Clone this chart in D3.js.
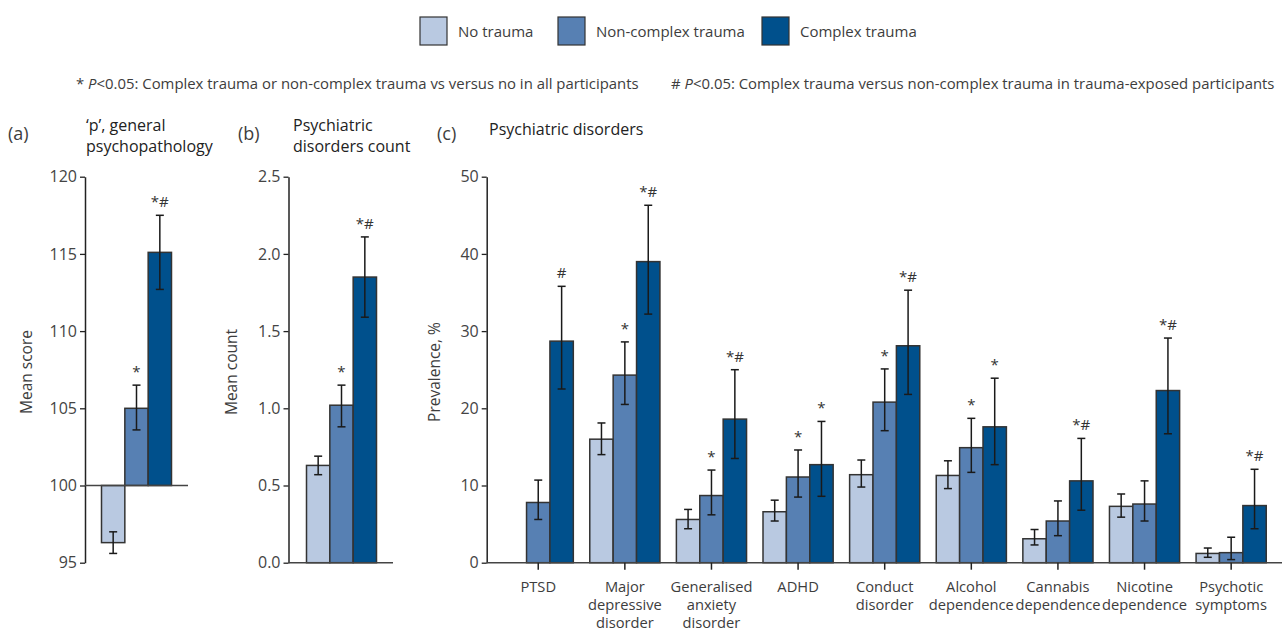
<!DOCTYPE html>
<html>
<head>
<meta charset="utf-8">
<script src="https://cdn.jsdelivr.net/npm/d3@7"></script>
<style>
  body { margin: 0; background: #fff; }
  svg text { font-family: "Open Sans", Roboto, sans-serif; }
</style>
</head>
<body>
<svg id="chart" width="1282" height="630"></svg>
<script>
const svg = d3.select("#chart");

const groups = ["No trauma", "Non-complex trauma", "Complex trauma"];
const colorByGroup = ["#b9c9e1", "#5780b3", "#00508c"];

// (a) general psychopathology
const pMean = [96.3, 105.0, 115.1];
const pLow  = [95.6, 103.6, 112.7];
const pHigh = [97.0, 106.5, 117.5];
const pSig  = ["", "*", "*#"];
const pTicks = [95, 100, 105, 110, 115, 120];

// (b) disorders count
const cMean = [0.63, 1.02, 1.85];
const cLow  = [0.57, 0.88, 1.59];
const cHigh = [0.69, 1.15, 2.11];
const cSig  = ["", "*", "*#"];
const cTicks = [0, 0.5, 1.0, 1.5, 2.0, 2.5];

// (c) prevalence of disorders
const disorders = ["PTSD", "Major depressive disorder", "Generalised anxiety disorder", "ADHD",
  "Conduct disorder", "Alcohol dependence", "Cannabis dependence", "Nicotine dependence", "Psychotic symptoms"];
const disorderLines = [["PTSD"], ["Major", "depressive", "disorder"], ["Generalised", "anxiety", "disorder"], ["ADHD"],
  ["Conduct", "disorder"], ["Alcohol", "dependence"], ["Cannabis", "dependence"], ["Nicotine", "dependence"], ["Psychotic", "symptoms"]];

const noMean  = [null, 16.0, 5.6, 6.6, 11.4, 11.3, 3.1, 7.3, 1.2];
const noLow   = [null, 14.0, 4.4, 5.4, 9.8, 9.6, 2.3, 5.9, 0.7];
const noHigh  = [null, 18.1, 6.9, 8.1, 13.3, 13.2, 4.3, 8.9, 1.9];
const noSig   = ["", "", "", "", "", "", "", "", ""];

const ncMean  = [7.8, 24.3, 8.7, 11.1, 20.8, 14.9, 5.4, 7.6, 1.3];
const ncLow   = [5.6, 20.5, 6.2, 8.5, 17.1, 11.7, 3.5, 5.4, 0.4];
const ncHigh  = [10.7, 28.6, 12.0, 14.6, 25.1, 18.7, 8.0, 10.6, 3.3];
const ncSig   = ["", "*", "*", "*", "*", "*", "", "", ""];

const ctMean  = [28.7, 39.0, 18.6, 12.7, 28.1, 17.6, 10.6, 22.3, 7.4];
const ctLow   = [22.5, 32.2, 13.5, 8.6, 21.8, 12.7, 6.8, 16.7, 4.4];
const ctHigh  = [35.8, 46.3, 25.0, 18.3, 35.3, 23.9, 16.1, 29.1, 12.1];
const ctSig   = ["#", "*#", "*#", "*", "*#", "*", "*#", "*#", "*#"];
const prevTicks = [0, 10, 20, 30, 40, 50];

const TXT = "#3d3d3d";
const plotTop = 176.7, plotBottom = 562.7;

// legend
const legendX = [420, 558, 762];
groups.forEach((g, i) => {
  svg.append("rect").attr("x", legendX[i]).attr("y", 17).attr("width", 27).attr("height", 28)
    .attr("fill", colorByGroup[i]).attr("stroke", "#333").attr("stroke-width", 1.2);
  svg.append("text").attr("x", legendX[i] + 38).attr("y", 36.5).attr("font-size", 15)
    .attr("fill", TXT).text(g);
});

// footnotes
const fn1 = svg.append("text").attr("x", 76).attr("y", 89).attr("font-size", 14.9).attr("fill", TXT);
fn1.append("tspan").text("* ");
fn1.append("tspan").attr("font-style", "italic").text("P");
fn1.append("tspan").text("<0.05: Complex trauma or non-complex trauma vs versus no in all participants");
const fn2 = svg.append("text").attr("x", 671).attr("y", 89).attr("font-size", 14.9).attr("fill", TXT);
fn2.append("tspan").text("# ");
fn2.append("tspan").attr("font-style", "italic").text("P");
fn2.append("tspan").text("<0.05: Complex trauma versus non-complex trauma in trauma-exposed participants");

function panelTitle(letterX, titleX, lines, letter, y0) {
  svg.append("text").attr("x", letterX).attr("y", 140).attr("font-size", 18)
    .attr("fill", TXT).text(letter);
  lines.forEach((l, i) => svg.append("text").attr("x", titleX).attr("y", y0 + i * 21)
    .attr("font-size", 16).attr("fill", "#222").text(l));
}

function yAxis(axisX, y, ticks, fmt, title, titleX) {
  const g = svg.append("g").attr("transform", `translate(${axisX},0)`)
    .call(d3.axisLeft(y).tickValues(ticks).tickFormat(fmt).tickSize(5).tickSizeOuter(0).tickPadding(3));
  g.select(".domain").attr("stroke", "#222").attr("stroke-width", 1.5);
  g.selectAll(".tick line").attr("stroke", "#222").attr("stroke-width", 1.3);
  g.selectAll(".tick text").attr("font-size", 16).attr("fill", "#444")
    .style("font-family", "'Open Sans', sans-serif");
  svg.append("text").attr("transform", `translate(${titleX},372) rotate(-90)`)
    .attr("text-anchor", "middle").attr("font-size", 15.5).attr("fill", TXT).text(title);
}

function drawBar(x, w, y, base, v, lo, hi, sig, color) {
  if (v == null) return;
  svg.append("rect").attr("x", x).attr("width", w)
    .attr("y", Math.min(y(v), y(base))).attr("height", Math.abs(y(v) - y(base)))
    .attr("fill", color).attr("stroke", "#333").attr("stroke-width", 1.5);
  const cx = x + w / 2;
  svg.append("line").attr("x1", cx).attr("x2", cx).attr("y1", y(lo)).attr("y2", y(hi))
    .attr("stroke", "#1a1a1a").attr("stroke-width", 1.5);
  [lo, hi].forEach(e => svg.append("line").attr("x1", cx - 4).attr("x2", cx + 4)
    .attr("y1", y(e)).attr("y2", y(e)).attr("stroke", "#1a1a1a").attr("stroke-width", 1.5));
  if (sig) svg.append("text").attr("x", cx).attr("y", y(hi) - 8).attr("text-anchor", "middle")
    .attr("font-size", 15).attr("fill", "#333").text(sig);
}

// (a)
{
  const y = d3.scaleLinear().domain([95, 120]).range([plotBottom, plotTop]);
  const x = d3.scaleBand().domain(groups).range([101.5, 171.5]);
  panelTitle(8, 86, ["\u2018p\u2019, general", " psychopathology"], "(a)", 131);
  groups.forEach((g, i) => drawBar(x(g), x.bandwidth(), y, 100, pMean[i], pLow[i], pHigh[i], pSig[i], colorByGroup[i]));
  yAxis(85, y, pTicks, d3.format("d"), "Mean score", 32);
  svg.append("line").attr("x1", 85).attr("x2", 188).attr("y1", y(100)).attr("y2", y(100))
    .attr("stroke", "#444").attr("stroke-width", 1.5);
}

// (b)
{
  const y = d3.scaleLinear().domain([0, 2.5]).range([plotBottom, plotTop]);
  const x = d3.scaleBand().domain(groups).range([306.5, 376.5]);
  panelTitle(238, 293, ["Psychiatric", "disorders count"], "(b)", 131);
  groups.forEach((g, i) => drawBar(x(g), x.bandwidth(), y, 0, cMean[i], cLow[i], cHigh[i], cSig[i], colorByGroup[i]));
  yAxis(288.5, y, cTicks, d3.format(".1f"), "Mean count", 237);
  svg.append("line").attr("x1", 288.5).attr("x2", 393).attr("y1", y(0)).attr("y2", y(0))
    .attr("stroke", "#444").attr("stroke-width", 1.5);
}

// (c)
{
  const y = d3.scaleLinear().domain([0, 50]).range([plotBottom, plotTop]);
  const x0 = d3.scaleBand().domain(disorders).range([486.7, 1282.7]).paddingInner(0.19).paddingOuter(0.19);
  const x1 = d3.scaleBand().domain(groups).range([0, x0.bandwidth()]);
  panelTitle(437, 489, ["Psychiatric disorders"], "(c)", 135);
  const series = [
    [noMean, noLow, noHigh, noSig],
    [ncMean, ncLow, ncHigh, ncSig],
    [ctMean, ctLow, ctHigh, ctSig]
  ];
  disorders.forEach((d, j) => {
    groups.forEach((g, i) => {
      const [m, lo, hi, s] = series[i];
      drawBar(x0(d) + x1(g), x1.bandwidth(), y, 0, m[j], lo[j], hi[j], s[j], colorByGroup[i]);
    });
  });
  yAxis(486.7, y, prevTicks, d3.format("d"), "Prevalence, %", 440);
  svg.append("line").attr("x1", 486.7).attr("x2", 1282).attr("y1", y(0)).attr("y2", y(0))
    .attr("stroke", "#444").attr("stroke-width", 1.5);
  disorders.forEach((d, j) => {
    const cx = x0(d) + x0.bandwidth() / 2;
    svg.append("line").attr("x1", cx).attr("x2", cx).attr("y1", y(0)).attr("y2", y(0) + 7)
      .attr("stroke", "#222").attr("stroke-width", 1.5);
    const t = svg.append("text").attr("text-anchor", "middle").attr("font-size", 14.7)
      .attr("fill", TXT);
    disorderLines[j].forEach((l, k) => t.append("tspan").attr("x", cx).attr("y", 591.5 + k * 18).text(l));
  });
}
</script>
</body>
</html>
